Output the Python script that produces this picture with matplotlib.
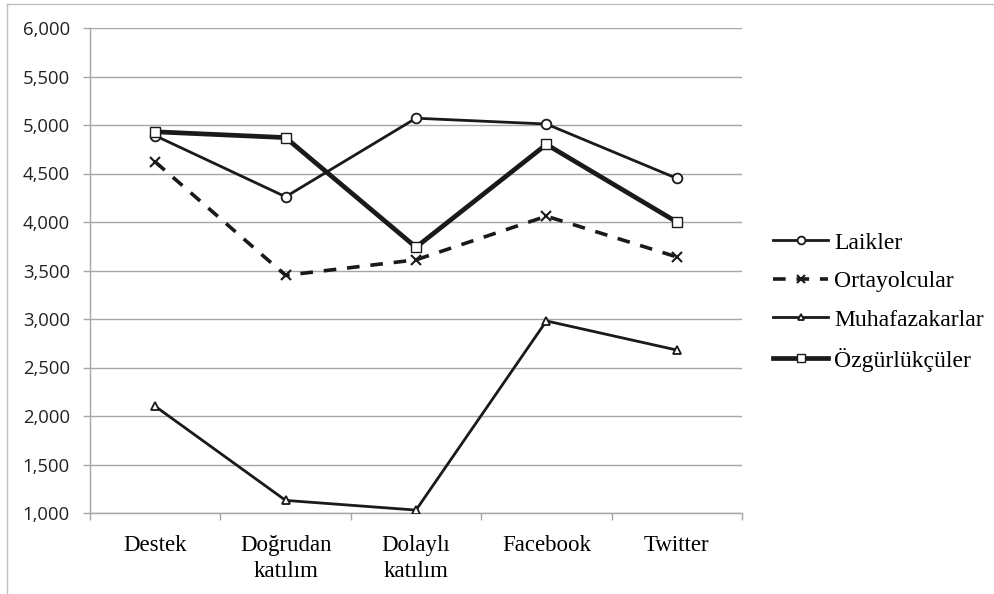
import matplotlib.pyplot as plt
from matplotlib.lines import Line2D
from matplotlib.ticker import FuncFormatter

categories = ["Destek", "Doğrudan\nkatılım", "Dolaylı\nkatılım", "Facebook", "Twitter"]
laikler = [4890, 4260, 5070, 5010, 4450]
ortayolcular = [4620, 3450, 3610, 4060, 3640]
muhafazakarlar = [2100, 1130, 1030, 2980, 2680]
ozgurlukculer = [4930, 4870, 3740, 4800, 4000]

W, H = 995, 594
fig = plt.figure(figsize=(W / 100, H / 100), dpi=100)
ax = fig.add_axes([90 / W, 1 - 513 / H, (742 - 90) / W, (513 - 28) / H])

x = list(range(len(categories)))
grid_col = "#a6a6a6"
serif = "Liberation Serif"

series = [
    ("Laikler", laikler, dict(marker="o", ms=7, lw=2.0, ls="-", mfc="white")),
    ("Ortayolcular", ortayolcular, dict(marker="x", ms=7, lw=2.6, ls=(0, (3.5, 3)), mew=1.5)),
    ("Muhafazakarlar", muhafazakarlar, dict(marker="^", ms=5.5, lw=2.0, ls="-", mfc="white")),
    ("Özgürlükçüler", ozgurlukculer, dict(marker="s", ms=6.5, lw=3.4, ls="-", mfc="white", mew=1.0)),
]
handles = []
for name, vals, kw in series:
    mew = kw.pop("mew", 1.3)
    line, = ax.plot(x, vals, color="#1a1a1a", mec="#1a1a1a", mew=mew, label=name,
                    zorder=3, **kw)
    handles.append(line)

ax.set_xlim(-0.5, len(categories) - 0.5)
ax.set_ylim(1000, 6000)
ax.set_yticks(range(1000, 6001, 500))
ax.yaxis.set_major_formatter(FuncFormatter(lambda v, p: f"{int(v):,}"))
ax.grid(axis="y", color=grid_col, lw=1.0, zorder=0)

ax.set_xticks(x)
ax.set_xticklabels(categories, fontfamily=serif, fontsize=16.5, linespacing=1.28)
ax.set_xticks([i - 0.5 for i in range(len(categories) + 1)], minor=True)
ax.tick_params(axis="x", which="major", length=0, pad=16)
ax.tick_params(axis="x", which="minor", length=5, color=grid_col, width=1.0)
ax.tick_params(axis="y", length=5, color=grid_col, width=1.0, labelsize=13.3,
               labelcolor="#222222", pad=9.5)
for lab in ax.get_yticklabels():
    lab.set_fontfamily("Open Sans")

for side in ["top", "right"]:
    ax.spines[side].set_visible(False)
for side in ["left", "bottom"]:
    ax.spines[side].set_color(grid_col)
    ax.spines[side].set_linewidth(1.0)

leg = fig.legend(handles=handles, loc="upper left", bbox_to_anchor=(773 / W, 1 - 232 / H),
                 frameon=False, handlelength=2.35, handletextpad=0.25, labelspacing=0.72,
                 borderpad=0, borderaxespad=0, markerscale=0.8,
                 prop={"family": serif, "size": 17})

# outer chart border
fig.add_artist(Line2D([7 / W, 7 / W], [0, 1 - 4 / H], color="#bfbfbf", lw=1.0))
fig.add_artist(Line2D([7 / W, 1], [1 - 4 / H, 1 - 4 / H], color="#bfbfbf", lw=1.0))

fig.savefig("out.png", dpi=100)
